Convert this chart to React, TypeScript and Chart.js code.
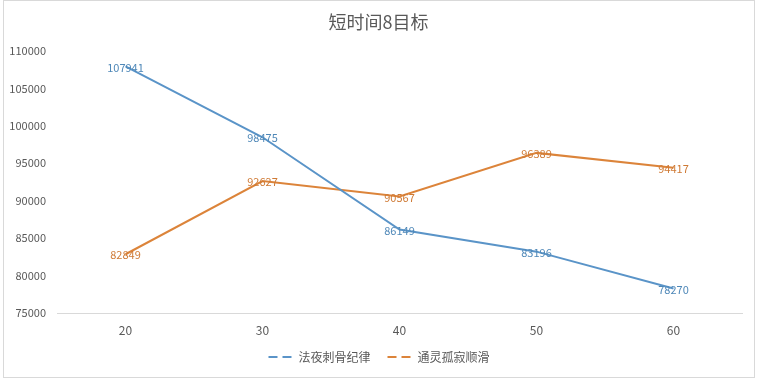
import React, { useEffect, useRef } from "react";
import { Chart, registerables } from "chart.js";

Chart.register(...registerables);

const title = "短时间8目标";
const categories = ["20", "30", "40", "50", "60"];
const seriesNames = ["法夜刺骨纪律", "通灵孤寂顺滑"];
const seriesA = [107941, 98475, 86149, 83196, 78270];
const seriesB = [82849, 92627, 90567, 96389, 94417];
const lineColors = ["#5a94c8", "#dc843a"];
const labelColors = ["#4f88b8", "#cf7a35"];
const yMin = 75000;
const yMax = 110000;
const yStep = 5000;

const FONT = "'Noto Sans CJK SC', 'Noto Sans', sans-serif";

const decorPlugin = {
  id: "decor",
  afterDraw(chart: any) {
    const ctx = chart.ctx as CanvasRenderingContext2D;
    const W = chart.width;
    ctx.save();
    // border
    ctx.strokeStyle = "#d9d9d9";
    ctx.lineWidth = 1;
    ctx.strokeRect(3.5, 0.5, 751, 377);
    // title
    ctx.fillStyle = "#595959";
    ctx.font = `18px ${FONT}`;
    ctx.textAlign = "center";
    ctx.textBaseline = "middle";
    ctx.fillText(title, W / 2, 22);
    // data labels
    ctx.font = `11px ${FONT}`;
    chart.data.datasets.forEach((ds: any, i: number) => {
      const meta = chart.getDatasetMeta(i);
      ctx.fillStyle = labelColors[i];
      meta.data.forEach((pt: any, j: number) => {
        ctx.fillText(String(ds.data[j]), pt.x, pt.y + 1);
      });
    });
    // legend
    ctx.font = `12px ${FONT}`;
    ctx.textAlign = "left";
    const items = seriesNames.map((n, i) => ({ n, w: ctx.measureText(n).width, c: lineColors[i] }));
    const sw = 26;
    const gap = 5;
    const itemGap = 16;
    const total = items.reduce((s, it) => s + sw + gap + it.w, 0) + itemGap * (items.length - 1);
    let x = W / 2 - total / 2;
    const y = 357;
    items.forEach((it) => {
      ctx.strokeStyle = it.c;
      ctx.lineWidth = 2;
      ctx.setLineDash([9, 5]);
      ctx.beginPath();
      ctx.moveTo(x + 1, y);
      ctx.lineTo(x + sw, y);
      ctx.stroke();
      ctx.setLineDash([]);
      ctx.fillStyle = "#595959";
      ctx.fillText(it.n, x + sw + gap, y);
      x += sw + gap + it.w + itemGap;
    });
    ctx.restore();
  },
};

export default function App() {
  const ref = useRef<HTMLCanvasElement | null>(null);
  useEffect(() => {
    document.body.style.margin = "0";
    const chart = new Chart(ref.current!, {
      type: "line",
      data: {
        labels: categories,
        datasets: [
          {
            label: seriesNames[0],
            data: seriesA,
            borderColor: lineColors[0],
            backgroundColor: lineColors[0],
            borderWidth: 2,
            pointRadius: 0,
            tension: 0,
          },
          {
            label: seriesNames[1],
            data: seriesB,
            borderColor: lineColors[1],
            backgroundColor: lineColors[1],
            borderWidth: 2,
            pointRadius: 0,
            tension: 0,
          },
        ],
      },
      options: {
        animation: false,
        responsive: false,
        devicePixelRatio: 1,
        layout: { padding: { top: 51, bottom: 36, left: 0, right: 15 } },
        plugins: {
          legend: { display: false },
          title: { display: false },
          tooltip: { enabled: false },
        },
        scales: {
          x: {
            offset: true,
            grid: { display: false, drawTicks: false },
            border: { display: true, color: "#d9d9d9", width: 1 },
            ticks: { color: "#595959", font: { size: 12, family: FONT }, padding: 10 },
            afterFit(scale: any) {
              scale.height = 30;
            },
          },
          y: {
            min: yMin,
            max: yMax,
            grid: { display: false, drawTicks: false },
            border: { display: false },
            ticks: {
              stepSize: yStep,
              color: "#595959",
              font: { size: 11, family: FONT },
              padding: 11,
              callback: (v: any) => String(v),
            },
            afterFit(scale: any) {
              scale.width = 57;
            },
          },
        },
      },
      plugins: [decorPlugin],
    });
    return () => chart.destroy();
  }, []);
  return (
    <div style={{ position: "fixed", left: 0, top: 0, width: 757, height: 379, background: "#fff" }}>
      <canvas ref={ref} width={757} height={379} style={{ width: 757, height: 379 }} />
    </div>
  );
}
